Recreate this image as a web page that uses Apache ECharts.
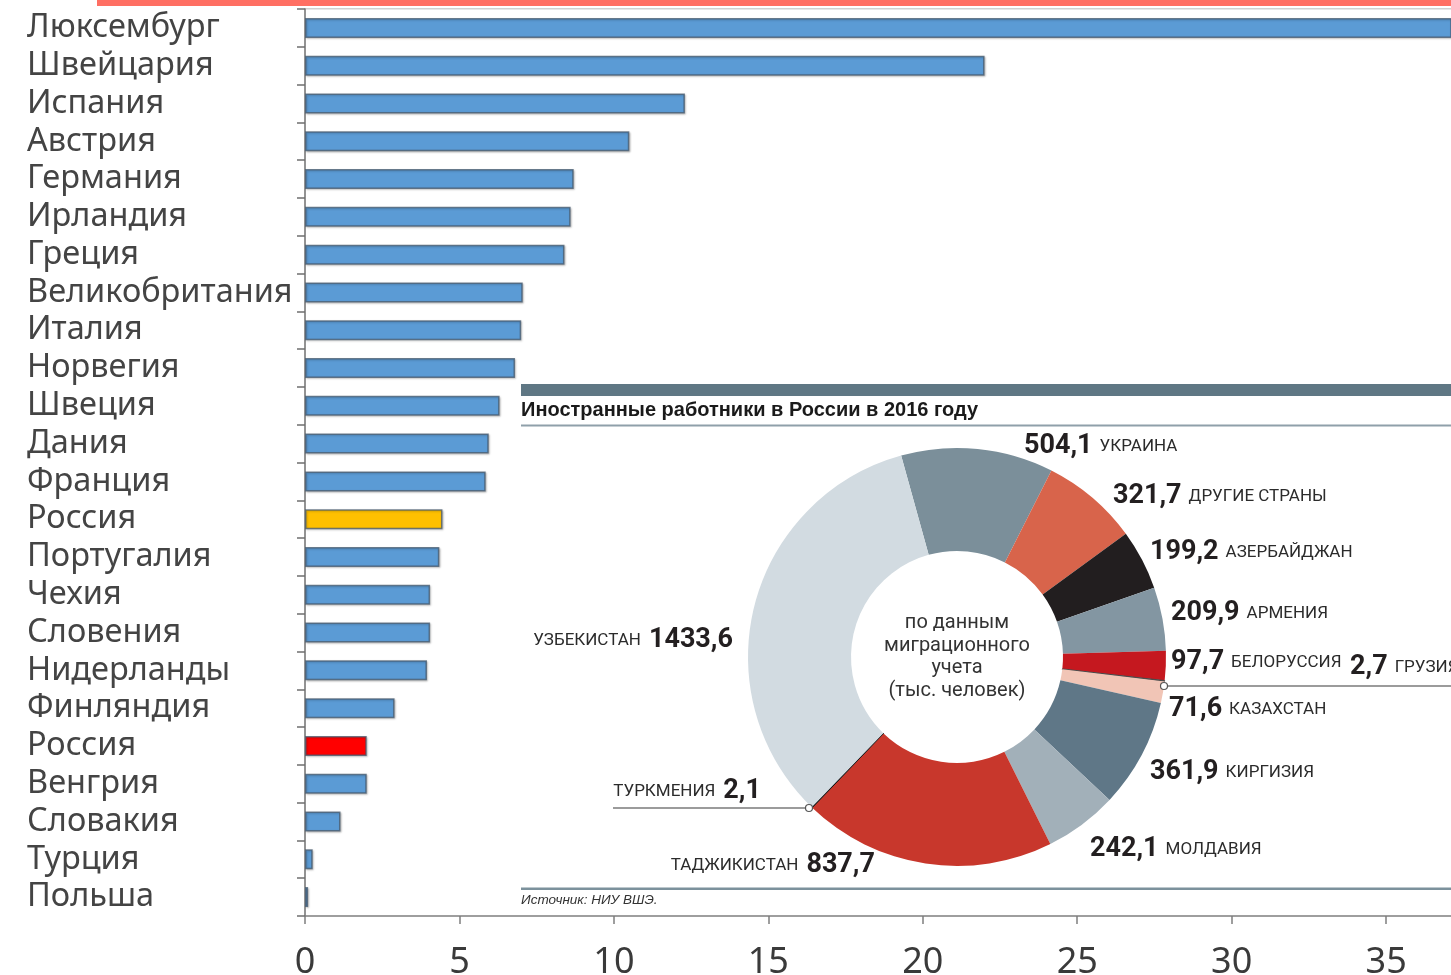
<!DOCTYPE html>
<html><head><meta charset="utf-8">
<script src="https://cdn.jsdelivr.net/npm/echarts@6/dist/echarts.min.js"></script>
<style>html,body{margin:0;padding:0;background:#fff}#c{width:1451px;height:975px}</style>
</head><body><div id="c"></div>
<script>
// Bar chart data
var countries = ['Люксембург','Швейцария','Испания','Австрия','Германия','Ирландия','Греция','Великобритания','Италия','Норвегия','Швеция','Дания','Франция','Россия','Португалия','Чехия','Словения','Нидерланды','Финляндия','Россия','Венгрия','Словакия','Турция','Польша'];
var values = [38, 22.0, 12.3, 10.5, 8.7, 8.6, 8.4, 7.05, 7.0, 6.8, 6.3, 5.95, 5.85, 4.45, 4.35, 4.05, 4.05, 3.95, 2.9, 2.0, 2.0, 1.15, 0.25, 0.1];
var xTicks = [0, 5, 10, 15, 20, 25, 30, 35];

// Donut data
var migrantCountries = ['УКРАИНА','ДРУГИЕ СТРАНЫ','АЗЕРБАЙДЖАН','АРМЕНИЯ','БЕЛОРУССИЯ','ГРУЗИЯ','КАЗАХСТАН','КИРГИЗИЯ','МОЛДАВИЯ','ТАДЖИКИСТАН','ТУРКМЕНИЯ','УЗБЕКИСТАН'];
var migrantValues = [504.1, 321.7, 199.2, 209.9, 97.7, 2.7, 71.6, 361.9, 242.1, 837.7, 2.1, 1433.6];

var sliceColors = ['#7B8F9A','#D8644B','#221E1F','#8396A2','#C5181F','#4a4a4a','#F1C5B6','#5F7787','#A2B0B9','#C8372C','#111111','#D2DBE1'];
var barHighlight = {13: '#FFC000', 19: '#FF0000'};
var leftSide = {9: true, 10: true, 11: true};
var labelPos = [[1024,446],[1113,496],[1150,552],[1171,613],[1171,662],[1350,667],[1169,709],[1150,772],[1090,849],[875,865],[761,791],[733,640]];

function fmt(v){ return v.toFixed(1).replace('.', ','); }

var chart = echarts.init(document.getElementById('c'));
var numFont = 'Roboto,"Noto Sans",sans-serif';

var option = {
  animation: false,
  grid: {left: 305, right: 0, top: 9, bottom: 59, containLabel: false, outerBoundsMode: 'none'},
  xAxis: {
    type: 'value', min: 0, max: 37.1, interval: 5,
    axisLine: {show: true, lineStyle: {color: '#7f7f7f', width: 1.5}},
    axisTick: {show: true, length: 8, lineStyle: {color: '#7f7f7f', width: 1.5}},
    splitLine: {show: false},
    axisLabel: {
      showMaxLabel: false, margin: 29, color: '#3a3a3a',
      fontFamily: '"Noto Sans",sans-serif', fontSize: 36,
      formatter: function(v){ return xTicks.indexOf(v) >= 0 ? String(v) : ''; }
    }
  },
  yAxis: {
    type: 'category', data: countries, inverse: true,
    axisLine: {show: true, lineStyle: {color: '#6f6f6f', width: 1.5}},
    axisTick: {show: true, length: 8, lineStyle: {color: '#6f6f6f', width: 1.5}},
    axisLabel: {
      interval: 0, align: 'left', margin: 278, color: '#444444',
      padding: [12, 0, 0, 0],
      fontFamily: '"Noto Sans",sans-serif', fontSize: 32.5
    }
  },
  series: [{
    type: 'bar', barWidth: 20, z: 2,
    data: values.map(function(v, i){
      return {value: v, itemStyle: {color: barHighlight[i] || '#5B9BD5'}};
    }),
    itemStyle: {borderColor: 'rgba(70,90,110,0.75)', borderWidth: 1.5,
      shadowColor: 'rgba(0,0,0,0.25)', shadowBlur: 2, shadowOffsetX: 1, shadowOffsetY: 1}
  }, {
    type: 'pie', z: 10, center: [957, 657], radius: [106, 209],
    startAngle: 105.5, clockwise: true, avoidLabelOverlap: false,
    data: migrantValues.map(function(v, i){
      var item = {name: migrantCountries[i], value: v, itemStyle: {color: sliceColors[i]}};
      if (v < 5) { item.itemStyle.borderColor = sliceColors[i]; item.itemStyle.borderWidth = 1; }
      return item;
    }),
    label: {
      show: true, position: 'outside',
      formatter: function(p){
        var i = p.dataIndex;
        if (leftSide[i]) return '{nl|' + p.name + '}{v|' + fmt(p.value) + '}';
        return '{v|' + fmt(p.value) + '}{nr|' + p.name + '}';
      },
      rich: {
        v: {fontFamily: numFont, fontWeight: 'bold', fontSize: 27, color: '#231F20'},
        nr: {fontFamily: numFont, fontSize: 17, color: '#2b2b2b', padding: [2, 0, 0, 7]},
        nl: {fontFamily: numFont, fontSize: 17, color: '#2b2b2b', padding: [2, 8, 0, 0]}
      }
    },
    labelLine: {show: false},
    labelLayout: function(p){
      var i = p.dataIndex;
      return {x: labelPos[i][0], y: labelPos[i][1], align: leftSide[i] ? 'right' : 'left', verticalAlign: 'middle'};
    }
  }],
  graphic: [
    {type: 'rect', z: 0, shape: {x: 97, y: 0, width: 1354, height: 6}, style: {fill: '#FF6F63'}},
    {type: 'rect', z: 0, shape: {x: 305, y: 8, width: 1146, height: 1.5}, style: {fill: '#d0d0d0'}},
    {type: 'rect', z: 5, shape: {x: 519, y: 383, width: 932, height: 528}, style: {fill: '#ffffff'}},
    {type: 'rect', z: 6, shape: {x: 521, y: 384, width: 930, height: 12}, style: {fill: '#5F7784'}},
    {type: 'text', z: 6, x: 521, y: 410, style: {text: 'Иностранные работники в России в 2016 году', fill: '#1a1a1a',
      font: 'bold 20px "Liberation Sans",Arial,sans-serif', textVerticalAlign: 'middle'}},
    {type: 'rect', z: 6, shape: {x: 521, y: 424.5, width: 930, height: 2}, style: {fill: '#8FA0AA'}},
    {type: 'rect', z: 6, shape: {x: 521, y: 887.5, width: 930, height: 2.5}, style: {fill: '#7C919C'}},
    {type: 'text', z: 6, x: 521, y: 900, style: {text: 'Источник: НИУ ВШЭ.', fill: '#333',
      font: 'italic 13.5px "Liberation Sans",Arial,sans-serif', textVerticalAlign: 'middle'}},
    {type: 'text', z: 12, x: 957, y: 657, style: {text: 'по данным\nмиграционного\nучета\n(тыс. человек)', fill: '#333',
      font: '20px Roboto,"Liberation Sans",sans-serif', textAlign: 'center', textVerticalAlign: 'middle', lineHeight: 22.6}},
    {type: 'polyline', z: 12, shape: {points: [[1164, 686], [1451, 686]]}, style: {stroke: '#7a7a7a', lineWidth: 1.5}},
    {type: 'polyline', z: 12, shape: {points: [[613, 808], [809, 808]]}, style: {stroke: '#7a7a7a', lineWidth: 1.5}},
    {type: 'circle', z: 13, shape: {cx: 1164, cy: 686, r: 3.5}, style: {fill: '#fff', stroke: '#555', lineWidth: 1.2}},
    {type: 'circle', z: 13, shape: {cx: 809, cy: 808, r: 3.5}, style: {fill: '#fff', stroke: '#555', lineWidth: 1.2}}
  ]
};
chart.setOption(option);
</script></body></html>
